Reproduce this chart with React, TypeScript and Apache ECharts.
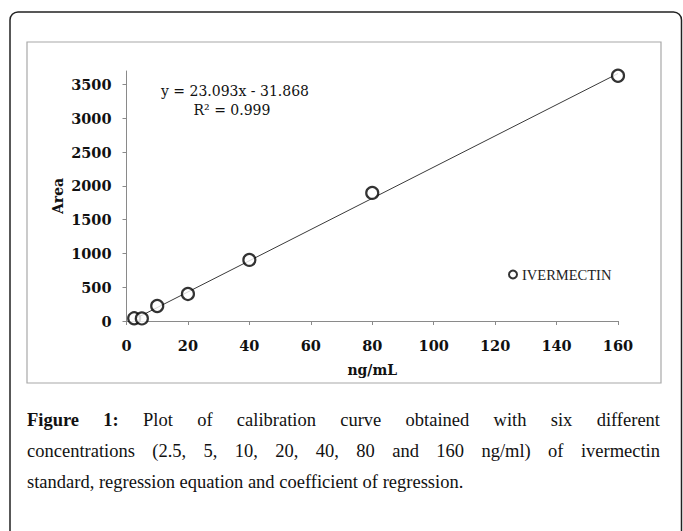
import React, { useEffect, useRef } from "react";
import * as echarts from "echarts";

const concentrations = [2.5, 5, 10, 20, 40, 80, 160];
const areaValues = [40, 38, 222, 400, 904, 1896, 3630];
const trendX = [2.5, 160];
const trendY = [26, 3663];
const yTickValues = [0, 500, 1000, 1500, 2000, 2500, 3000, 3500];
const seriesName = "IVERMECTIN";
const equationText = "y = 23.093x - 31.868";
const r2Text = "R\u00B2 = 0.999";
const captionLines = [
  "Plot of calibration curve obtained with six different",
  "concentrations (2.5, 5, 10, 20, 40, 80 and 160 ng/ml) of ivermectin",
  "standard, regression equation and coefficient of regression.",
];

const axisColor = "#8a8a8a";
const labelFont = { fontFamily: "DejaVu Serif", fontWeight: "bold" as const, fontSize: 14.5, color: "#111" };

export default function App() {
  const ref = useRef<HTMLDivElement>(null);
  useEffect(() => {
    if (!ref.current) return;
    const chart = echarts.init(ref.current, null, { renderer: "svg" });
    chart.setOption({
      animation: false,
      grid: { left: 126.5, right: 65, top: 71, bottom: 210 },
      xAxis: {
        type: "value",
        min: 0,
        max: 160,
        interval: 20,
        splitLine: { show: false },
        axisLine: { lineStyle: { color: axisColor, width: 1 } },
        axisTick: { show: true, length: 4, lineStyle: { color: axisColor } },
        axisLabel: { ...labelFont, margin: 17, formatter: (v: number) => String(v) },
        name: "ng/mL",
        nameLocation: "middle",
        nameGap: 42,
        nameTextStyle: { fontFamily: "DejaVu Serif", fontWeight: "bold", fontSize: 14, color: "#111" },
      },
      yAxis: {
        type: "value",
        min: 0,
        max: 3700,
        interval: 500,
        splitLine: { show: false },
        axisLine: { show: true, lineStyle: { color: axisColor, width: 1 } },
        axisTick: { show: true, length: 4, lineStyle: { color: axisColor }, customValues: yTickValues },
        axisLabel: { ...labelFont, margin: 15, customValues: yTickValues, formatter: (v: number) => String(v) },
        name: "Area",
        nameLocation: "middle",
        nameGap: 62,
        nameMoveOverlap: false,
        nameTextStyle: { fontFamily: "DejaVu Serif", fontWeight: "bold", fontSize: 14, color: "#111" },
      },
      legend: {
        data: [seriesName],
        left: 508,
        top: 267,
        itemWidth: 8,
        itemHeight: 8,
        itemGap: 5,
        padding: 0,
        textStyle: { fontFamily: "Liberation Serif", fontSize: 14.5, color: "#222" },
      },
      series: [
        {
          name: "trend",
          type: "line",
          data: trendX.map((x, i) => [x, trendY[i]]),
          showSymbol: false,
          silent: true,
          lineStyle: { color: "#3a3a3a", width: 1 },
          z: 2,
        },
        {
          name: seriesName,
          type: "scatter",
          data: concentrations.map((x, i) => [x, areaValues[i]]),
          symbol: "circle",
          symbolSize: 12,
          itemStyle: { color: "#fff", borderColor: "#000", borderWidth: 2.2 },
          z: 3,
        },
      ],
      graphic: [
        {
          type: "rect",
          shape: { x: 10, y: 12, width: 671.5, height: 620, r: 8 },
          style: { fill: "none", stroke: "#222", lineWidth: 1.5 },
          silent: true,
        },
        {
          type: "rect",
          shape: { x: 27, y: 42, width: 634, height: 341 },
          style: { fill: "none", stroke: "#a8a8a8", lineWidth: 1.2 },
          silent: true,
        },
        {
          type: "text",
          x: 235,
          y: 91,
          style: {
            text: equationText,
            align: "center",
            verticalAlign: "middle",
            fontFamily: "DejaVu Serif",
            fontSize: 14,
            fill: "#111",
          },
        },
        {
          type: "text",
          x: 232,
          y: 110,
          style: {
            text: r2Text,
            align: "center",
            verticalAlign: "middle",
            fontFamily: "DejaVu Serif",
            fontSize: 14,
            fill: "#111",
          },
        },
      ],
    });
    return () => chart.dispose();
  }, []);

  const lineStyle = (justify: boolean): React.CSSProperties => ({
    width: 633,
    height: 31,
    lineHeight: "31px",
    textAlign: justify ? "justify" : "left",
    textAlignLast: justify ? "justify" : "left",
  } as React.CSSProperties);

  return (
    <div style={{ position: "absolute", left: 0, top: 0, width: 683, height: 531, background: "#fff" }}>
      <div ref={ref} style={{ position: "absolute", left: 0, top: 0, width: 683, height: 531 }} />
      <div
        style={{
          position: "absolute",
          left: 27,
          top: 405,
          width: 633,
          fontFamily: "'Liberation Serif', serif",
          fontSize: 18.5,
          color: "#111",
        }}
      >
        <div style={lineStyle(true)}>
          <b>Figure 1:</b> {captionLines[0]}
        </div>
        <div style={lineStyle(true)}>{captionLines[1]}</div>
        <div style={{ ...lineStyle(false), whiteSpace: "nowrap" }}>{captionLines[2]}</div>
      </div>
    </div>
  );
}
